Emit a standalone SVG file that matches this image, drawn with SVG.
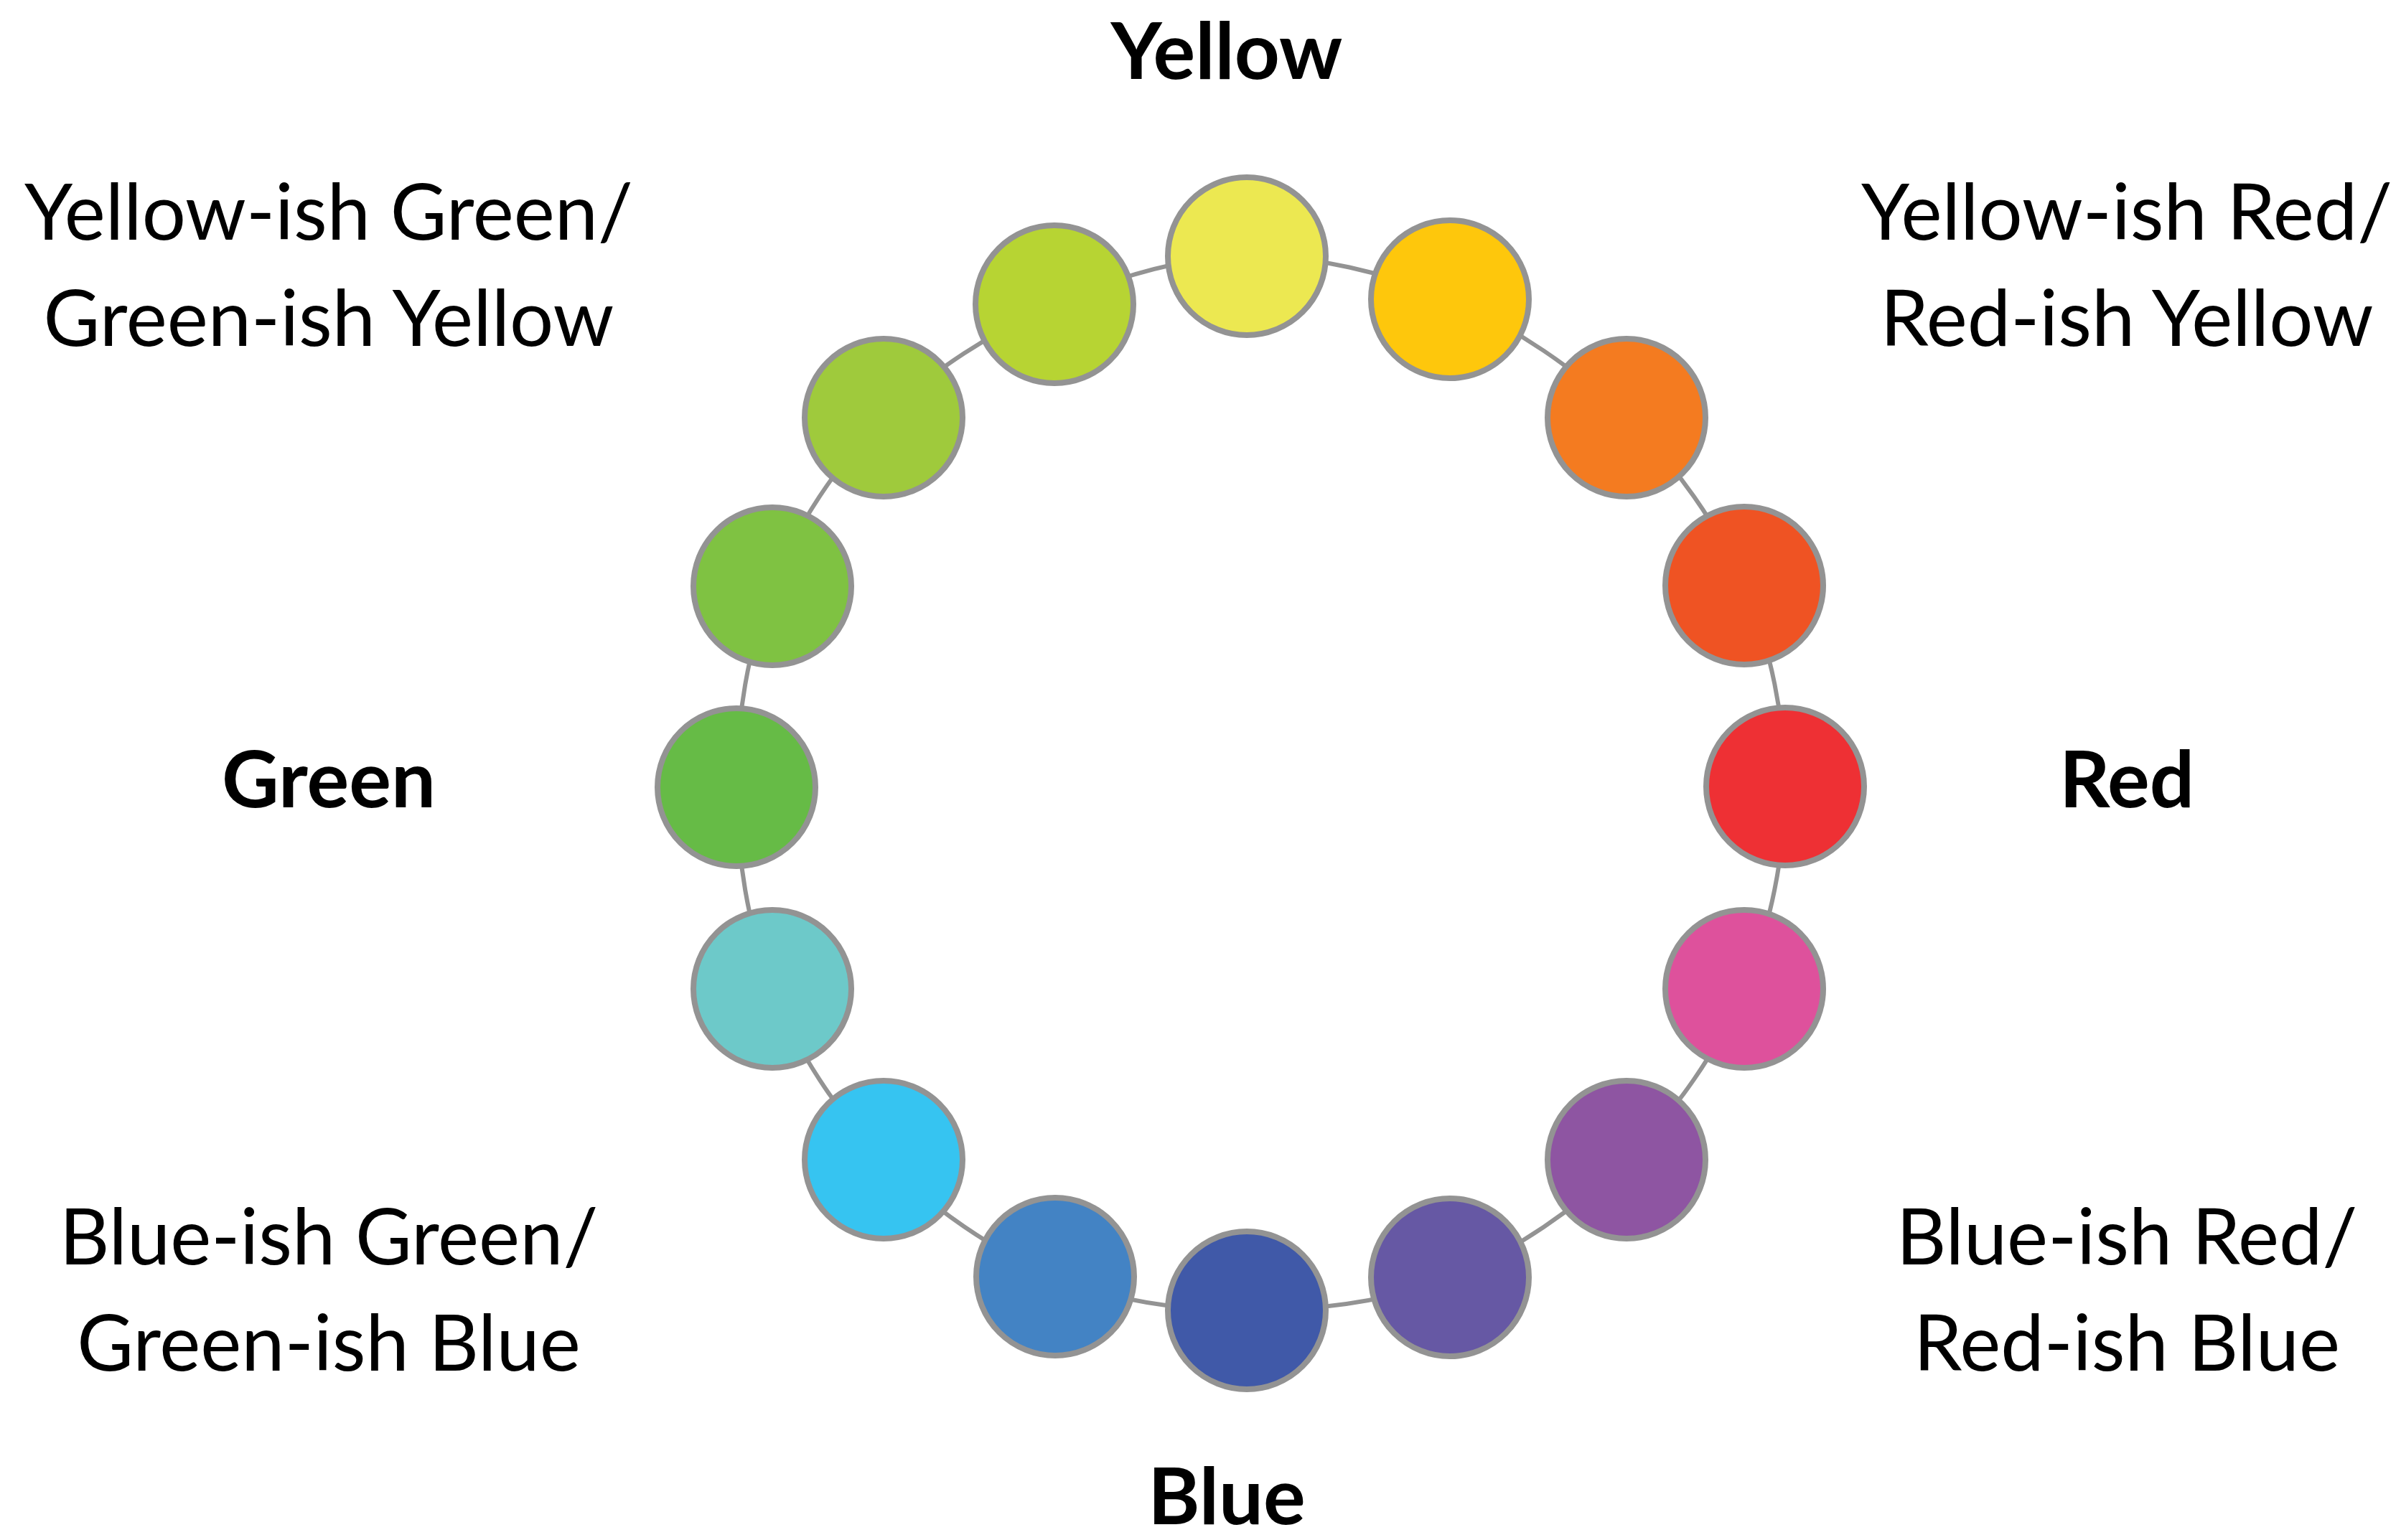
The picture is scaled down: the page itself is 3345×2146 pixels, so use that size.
<svg xmlns="http://www.w3.org/2000/svg" width="3345" height="2146" viewBox="0 0 3345 2146">
<style>
.conn{fill:none;stroke:#939393;stroke-width:6}
.dot{stroke:#939393;stroke-width:8}
.lbl{font-family:Lato,"Open Sans","Liberation Sans",sans-serif;font-size:108px;fill:#000;text-anchor:middle}
.main{font-family:Lato,"Open Sans","Liberation Sans",sans-serif;font-size:110px;font-weight:bold;fill:#000;text-anchor:middle}
</style>
<rect width="3345" height="2146" fill="#fff"/>
<g id="connectors">
<path class="conn" d="M1737,357 C1828.8,355.8 1931.8,379.5 2020,417"/>
<path class="conn" d="M2020,417 C2108.2,454.5 2197.7,515.5 2266,582"/>
<path class="conn" d="M2266,582 C2334.3,648.5 2393.2,730.3 2430,816"/>
<path class="conn" d="M2430,816 C2466.8,901.7 2487,1002.3 2487,1096"/>
<path class="conn" d="M2487,1096 C2487,1189.7 2466.8,1291.3 2430,1378"/>
<path class="conn" d="M2430,1378 C2393.2,1464.7 2334.3,1549 2266,1616"/>
<path class="conn" d="M2266,1616 C2197.7,1683 2108.2,1745 2020,1780"/>
<path class="conn" d="M2020,1780 C1931.8,1815 1828.7,1826.2 1737,1826"/>
<path class="conn" d="M1737,1826 C1645.3,1825.8 1554.3,1814 1470,1779"/>
<path class="conn" d="M1470,1779 C1385.7,1744 1296.7,1682.8 1231,1616"/>
<path class="conn" d="M1231,1616 C1165.3,1549.2 1110.2,1464.5 1076,1378"/>
<path class="conn" d="M1076,1378 C1041.8,1291.5 1026,1190.5 1026,1097"/>
<path class="conn" d="M1026,1097 C1026,1003.5 1041.8,902.8 1076,817"/>
<path class="conn" d="M1076,817 C1110.2,731.2 1165.5,647.5 1231,582"/>
<path class="conn" d="M1231,582 C1296.5,516.5 1384.7,461.5 1469,424"/>
<path class="conn" d="M1469,424 C1553.3,386.5 1645.2,358.2 1737,357"/>
</g>
<g id="c-yellow"><circle class="dot" cx="1737" cy="357" r="110" fill="#ECE851"/></g>
<g id="c-gold"><circle class="dot" cx="2020" cy="417" r="110" fill="#FEC70C"/></g>
<g id="c-orange"><circle class="dot" cx="2266" cy="582" r="110" fill="#F47B20"/></g>
<g id="c-redorange"><circle class="dot" cx="2430" cy="816" r="110" fill="#EF5323"/></g>
<g id="c-red"><circle class="dot" cx="2487" cy="1096" r="110" fill="#EE3034"/></g>
<g id="c-pink"><circle class="dot" cx="2430" cy="1378" r="110" fill="#DE519C"/></g>
<g id="c-purple"><circle class="dot" cx="2266" cy="1616" r="110" fill="#8E55A2"/></g>
<g id="c-violet"><circle class="dot" cx="2020" cy="1780" r="110" fill="#6658A4"/></g>
<g id="c-blue"><circle class="dot" cx="1737" cy="1826" r="110" fill="#4059A8"/></g>
<g id="c-midblue"><circle class="dot" cx="1470" cy="1779" r="110" fill="#4383C4"/></g>
<g id="c-cyan"><circle class="dot" cx="1231" cy="1616" r="110" fill="#36C4F1"/></g>
<g id="c-teal"><circle class="dot" cx="1076" cy="1378" r="110" fill="#6DC9C9"/></g>
<g id="c-green"><circle class="dot" cx="1026" cy="1097" r="110" fill="#66BB46"/></g>
<g id="c-green2"><circle class="dot" cx="1076" cy="817" r="110" fill="#7FC242"/></g>
<g id="c-greenyellow"><circle class="dot" cx="1231" cy="582" r="110" fill="#9FCA3C"/></g>
<g id="c-yellowgreen"><circle class="dot" cx="1469" cy="424" r="110" fill="#B7D433"/></g>
<g id="labels">
<text class="main" x="1709" y="110">Yellow</text>
<text class="main" x="1709" y="2124">Blue</text>
<text class="main" x="458" y="1125">Green</text>
<text class="main" x="2963" y="1125">Red</text>
<text class="lbl" x="458" y="334">Yellow-ish Green/</text>
<text class="lbl" x="458" y="482">Green-ish Yellow</text>
<text class="lbl" x="2963" y="334">Yellow-ish Red/</text>
<text class="lbl" x="2963" y="482">Red-ish Yellow</text>
<text class="lbl" x="458" y="1762">Blue-ish Green/</text>
<text class="lbl" x="458" y="1910">Green-ish Blue</text>
<text class="lbl" x="2963" y="1762">Blue-ish Red/</text>
<text class="lbl" x="2963" y="1910">Red-ish Blue</text>
</g>
</svg>
